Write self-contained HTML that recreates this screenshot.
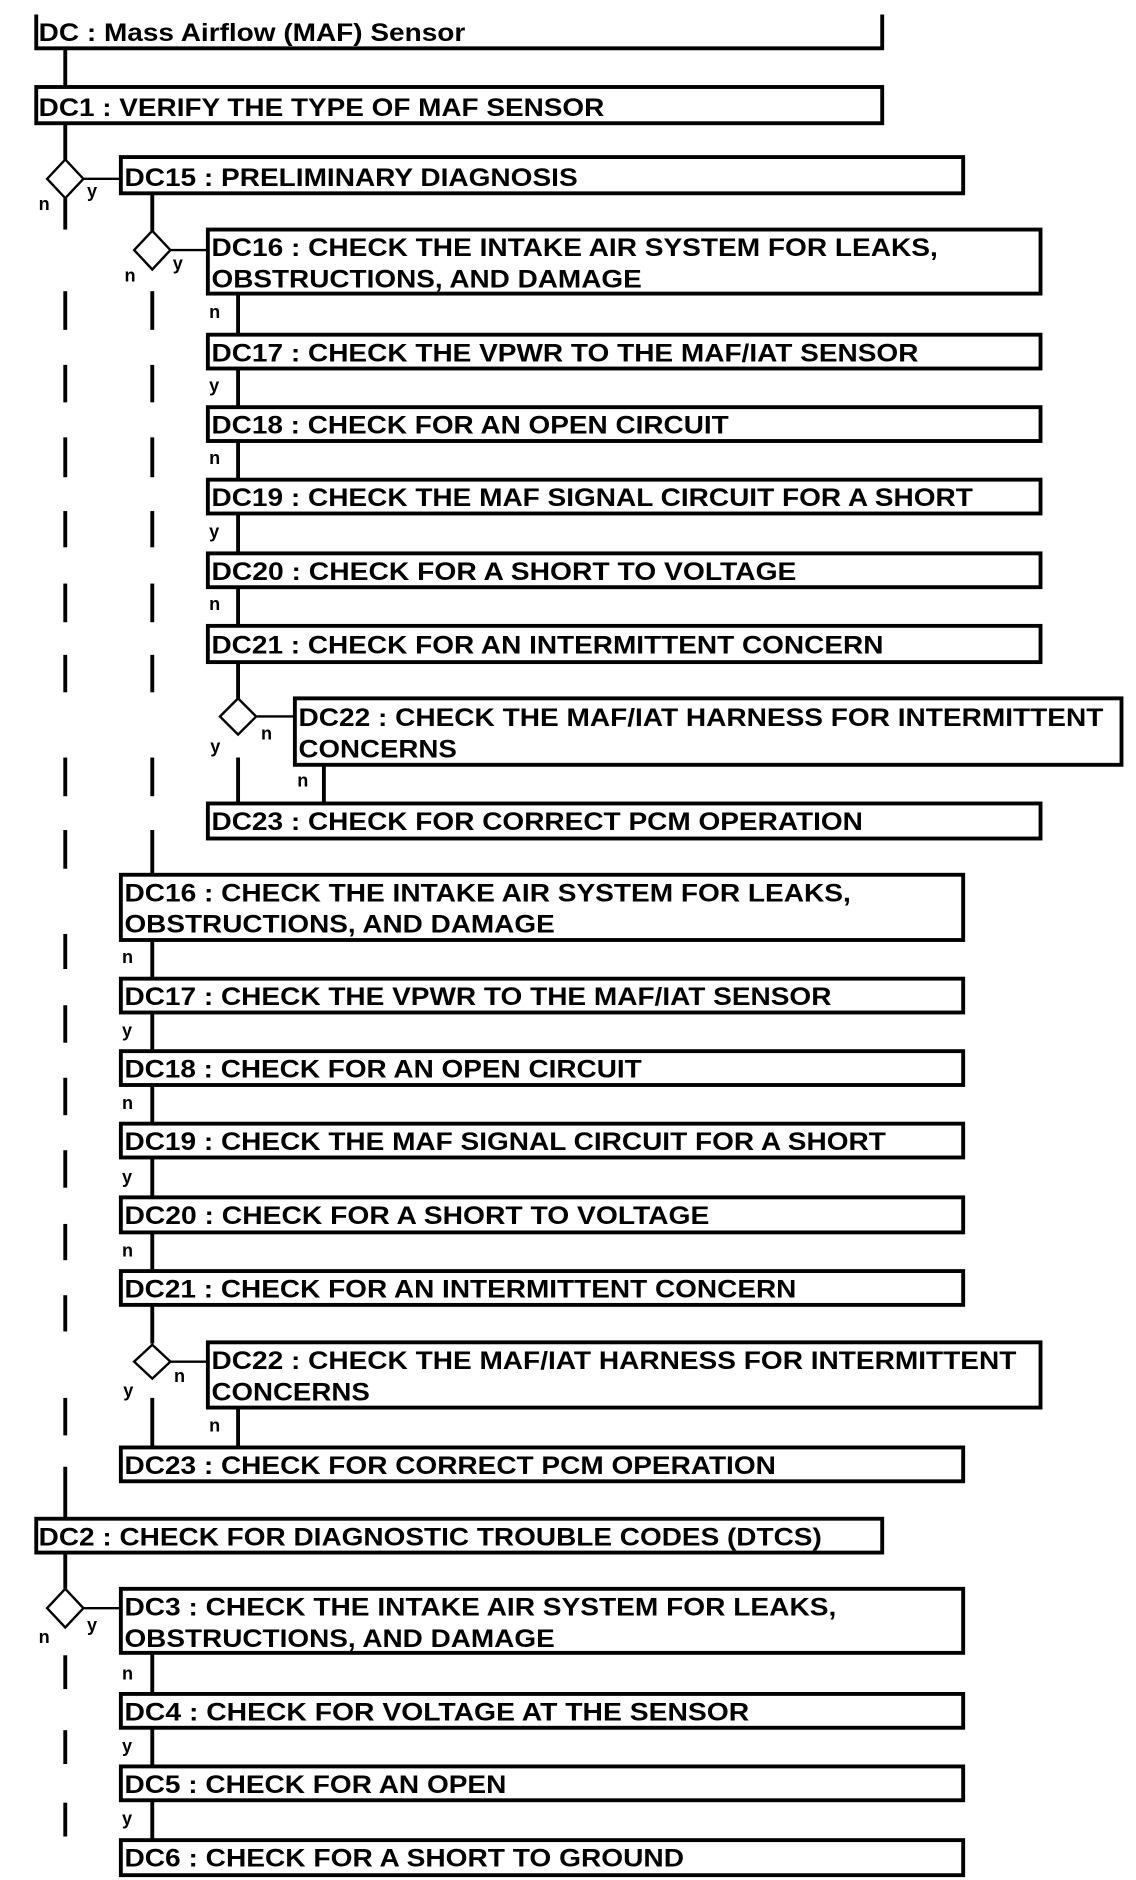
<!DOCTYPE html>
<html><head><meta charset="utf-8"><style>
html,body{margin:0;padding:0;background:#fff;}
svg{display:block}
text{font-family:"Liberation Sans",Arial,sans-serif;font-weight:bold;fill:#000;}
.t{font-size:21px}
.l{font-size:15px}
</style></head><body>
<svg width="1136" height="1880" viewBox="0 0 940 1556" preserveAspectRatio="none" xmlns="http://www.w3.org/2000/svg">
<g stroke="#000" stroke-width="3.2" fill="none">
<!-- header -->
<polyline points="30,12 30,40 730,40 730,12"/>
<rect x="30" y="72" width="700" height="30"/>
<rect x="100" y="130" width="697" height="30"/>
<rect x="172" y="190" width="689" height="53"/>
<rect x="172" y="277" width="689" height="28"/>
<rect x="172" y="337" width="689" height="28"/>
<rect x="172" y="397" width="689" height="28"/>
<rect x="172" y="458" width="689" height="28"/>
<rect x="172" y="518" width="689" height="30"/>
<rect x="244" y="578" width="684" height="55"/>
<rect x="172" y="665" width="689" height="29"/>
<rect x="100" y="724" width="697" height="54"/>
<rect x="100" y="810" width="697" height="28"/>
<rect x="100" y="870" width="697" height="28"/>
<rect x="100" y="930" width="697" height="28"/>
<rect x="100" y="991" width="697" height="29"/>
<rect x="100" y="1052" width="697" height="28"/>
<rect x="172" y="1111" width="689" height="54"/>
<rect x="100" y="1198" width="697" height="28"/>
<rect x="30" y="1257" width="700" height="28"/>
<rect x="100" y="1315" width="697" height="53"/>
<rect x="100" y="1402" width="697" height="28"/>
<rect x="100" y="1462" width="697" height="28"/>
<rect x="100" y="1523" width="697" height="29"/>
<!-- col1 -->
<line x1="54" y1="40" x2="54" y2="72"/>
<line x1="54" y1="102" x2="54" y2="132"/>
<line x1="54" y1="164" x2="54" y2="190"/>
<line x1="54" y1="241" x2="54" y2="273"/>
<line x1="54" y1="302" x2="54" y2="333"/>
<line x1="54" y1="362" x2="54" y2="395"/>
<line x1="54" y1="423" x2="54" y2="453"/>
<line x1="54" y1="483" x2="54" y2="515"/>
<line x1="54" y1="542" x2="54" y2="573"/>
<line x1="54" y1="627" x2="54" y2="659"/>
<line x1="54" y1="687" x2="54" y2="719"/>
<line x1="54" y1="773" x2="54" y2="802"/>
<line x1="54" y1="832" x2="54" y2="863"/>
<line x1="54" y1="892" x2="54" y2="923"/>
<line x1="54" y1="952" x2="54" y2="983"/>
<line x1="54" y1="1013" x2="54" y2="1043"/>
<line x1="54" y1="1072" x2="54" y2="1102"/>
<line x1="54" y1="1157" x2="54" y2="1188"/>
<line x1="54" y1="1214" x2="54" y2="1257"/>
<line x1="54" y1="1285" x2="54" y2="1315"/>
<line x1="54" y1="1370" x2="54" y2="1398"/>
<line x1="54" y1="1432" x2="54" y2="1460"/>
<line x1="54" y1="1492" x2="54" y2="1520"/>
<!-- col2 -->
<line x1="126" y1="160" x2="126" y2="191"/>
<line x1="126" y1="241" x2="126" y2="273"/>
<line x1="126" y1="302" x2="126" y2="333"/>
<line x1="126" y1="362" x2="126" y2="395"/>
<line x1="126" y1="423" x2="126" y2="453"/>
<line x1="126" y1="483" x2="126" y2="515"/>
<line x1="126" y1="542" x2="126" y2="573"/>
<line x1="126" y1="627" x2="126" y2="659"/>
<line x1="126" y1="687" x2="126" y2="724"/>
<line x1="126" y1="778" x2="126" y2="810"/>
<line x1="126" y1="838" x2="126" y2="870"/>
<line x1="126" y1="898" x2="126" y2="930"/>
<line x1="126" y1="958" x2="126" y2="991"/>
<line x1="126" y1="1020" x2="126" y2="1052"/>
<line x1="126" y1="1080" x2="126" y2="1112"/>
<line x1="126" y1="1157" x2="126" y2="1198"/>
<line x1="126" y1="1368" x2="126" y2="1402"/>
<line x1="126" y1="1430" x2="126" y2="1462"/>
<line x1="126" y1="1490" x2="126" y2="1523"/>
<!-- col3 -->
<line x1="197" y1="243" x2="197" y2="277"/>
<line x1="197" y1="305" x2="197" y2="337"/>
<line x1="197" y1="365" x2="197" y2="397"/>
<line x1="197" y1="425" x2="197" y2="458"/>
<line x1="197" y1="486" x2="197" y2="518"/>
<line x1="197" y1="548" x2="197" y2="578"/>
<line x1="197" y1="627" x2="197" y2="665"/>
<line x1="268" y1="633" x2="268" y2="665"/>
<line x1="197" y1="1165" x2="197" y2="1198"/>
</g>
<g stroke="#000" stroke-width="2" fill="#fff">
<polygon points="54,132 69,148 54,164 39,148"/>
<polygon points="126,191 141,207 126,223 111,207"/>
<polygon points="197,578 212,593 197,608 182,593"/>
<polygon points="126,1113 141,1127 126,1141 111,1127"/>
<polygon points="54,1315 69,1331 54,1347 39,1331"/>
<line x1="69" y1="148" x2="100" y2="148"/>
<line x1="141" y1="207" x2="172" y2="207"/>
<line x1="212" y1="593" x2="244" y2="593"/>
<line x1="141" y1="1127" x2="172" y2="1127"/>
<line x1="69" y1="1331" x2="100" y2="1331"/>
</g>
<g class="t">
<text x="32" y="34" textLength="353" lengthAdjust="spacingAndGlyphs">DC : Mass Airflow (MAF) Sensor</text>
<text x="32" y="96" textLength="468" lengthAdjust="spacingAndGlyphs">DC1 : VERIFY THE TYPE OF MAF SENSOR</text>
<text x="103" y="154" textLength="375" lengthAdjust="spacingAndGlyphs">DC15 : PRELIMINARY DIAGNOSIS</text>
<text x="175" y="212" textLength="601" lengthAdjust="spacingAndGlyphs">DC16 : CHECK THE INTAKE AIR SYSTEM FOR LEAKS,</text>
<text x="175" y="238" textLength="356" lengthAdjust="spacingAndGlyphs">OBSTRUCTIONS, AND DAMAGE</text>
<text x="175" y="299" textLength="585" lengthAdjust="spacingAndGlyphs">DC17 : CHECK THE VPWR TO THE MAF/IAT SENSOR</text>
<text x="175" y="359" textLength="428" lengthAdjust="spacingAndGlyphs">DC18 : CHECK FOR AN OPEN CIRCUIT</text>
<text x="175" y="419" textLength="630" lengthAdjust="spacingAndGlyphs">DC19 : CHECK THE MAF SIGNAL CIRCUIT FOR A SHORT</text>
<text x="175" y="480" textLength="484" lengthAdjust="spacingAndGlyphs">DC20 : CHECK FOR A SHORT TO VOLTAGE</text>
<text x="175" y="541" textLength="556" lengthAdjust="spacingAndGlyphs">DC21 : CHECK FOR AN INTERMITTENT CONCERN</text>
<text x="247" y="601" textLength="666" lengthAdjust="spacingAndGlyphs">DC22 : CHECK THE MAF/IAT HARNESS FOR INTERMITTENT</text>
<text x="247" y="627" textLength="131" lengthAdjust="spacingAndGlyphs">CONCERNS</text>
<text x="175" y="687" textLength="539" lengthAdjust="spacingAndGlyphs">DC23 : CHECK FOR CORRECT PCM OPERATION</text>
<text x="103" y="746" textLength="601" lengthAdjust="spacingAndGlyphs">DC16 : CHECK THE INTAKE AIR SYSTEM FOR LEAKS,</text>
<text x="103" y="772" textLength="356" lengthAdjust="spacingAndGlyphs">OBSTRUCTIONS, AND DAMAGE</text>
<text x="103" y="832" textLength="585" lengthAdjust="spacingAndGlyphs">DC17 : CHECK THE VPWR TO THE MAF/IAT SENSOR</text>
<text x="103" y="892" textLength="428" lengthAdjust="spacingAndGlyphs">DC18 : CHECK FOR AN OPEN CIRCUIT</text>
<text x="103" y="952" textLength="630" lengthAdjust="spacingAndGlyphs">DC19 : CHECK THE MAF SIGNAL CIRCUIT FOR A SHORT</text>
<text x="103" y="1013" textLength="484" lengthAdjust="spacingAndGlyphs">DC20 : CHECK FOR A SHORT TO VOLTAGE</text>
<text x="103" y="1074" textLength="556" lengthAdjust="spacingAndGlyphs">DC21 : CHECK FOR AN INTERMITTENT CONCERN</text>
<text x="175" y="1133" textLength="666" lengthAdjust="spacingAndGlyphs">DC22 : CHECK THE MAF/IAT HARNESS FOR INTERMITTENT</text>
<text x="175" y="1159" textLength="131" lengthAdjust="spacingAndGlyphs">CONCERNS</text>
<text x="103" y="1220" textLength="539" lengthAdjust="spacingAndGlyphs">DC23 : CHECK FOR CORRECT PCM OPERATION</text>
<text x="32" y="1279" textLength="648" lengthAdjust="spacingAndGlyphs">DC2 : CHECK FOR DIAGNOSTIC TROUBLE CODES (DTCS)</text>
<text x="103" y="1337" textLength="589" lengthAdjust="spacingAndGlyphs">DC3 : CHECK THE INTAKE AIR SYSTEM FOR LEAKS,</text>
<text x="103" y="1363" textLength="356" lengthAdjust="spacingAndGlyphs">OBSTRUCTIONS, AND DAMAGE</text>
<text x="103" y="1424" textLength="517" lengthAdjust="spacingAndGlyphs">DC4 : CHECK FOR VOLTAGE AT THE SENSOR</text>
<text x="103" y="1484" textLength="316" lengthAdjust="spacingAndGlyphs">DC5 : CHECK FOR AN OPEN</text>
<text x="103" y="1545" textLength="463" lengthAdjust="spacingAndGlyphs">DC6 : CHECK FOR A SHORT TO GROUND</text>
</g>
<g class="l">
<text x="72" y="163">y</text><text x="32" y="174">n</text>
<text x="143" y="223">y</text><text x="103" y="233">n</text>
<text x="173" y="263">n</text>
<text x="173" y="324">y</text>
<text x="173" y="384">n</text>
<text x="173" y="445">y</text>
<text x="173" y="505">n</text>
<text x="174" y="623">y</text><text x="216" y="612">n</text>
<text x="246" y="651">n</text>
<text x="101" y="797">n</text>
<text x="101" y="858">y</text>
<text x="101" y="918">n</text>
<text x="101" y="979">y</text>
<text x="101" y="1040">n</text>
<text x="102" y="1156">y</text><text x="144" y="1144">n</text>
<text x="173" y="1185">n</text>
<text x="72" y="1350">y</text><text x="32" y="1360">n</text>
<text x="101" y="1390">n</text>
<text x="101" y="1450">y</text>
<text x="101" y="1510">y</text>
</g>
</svg>
</body></html>
